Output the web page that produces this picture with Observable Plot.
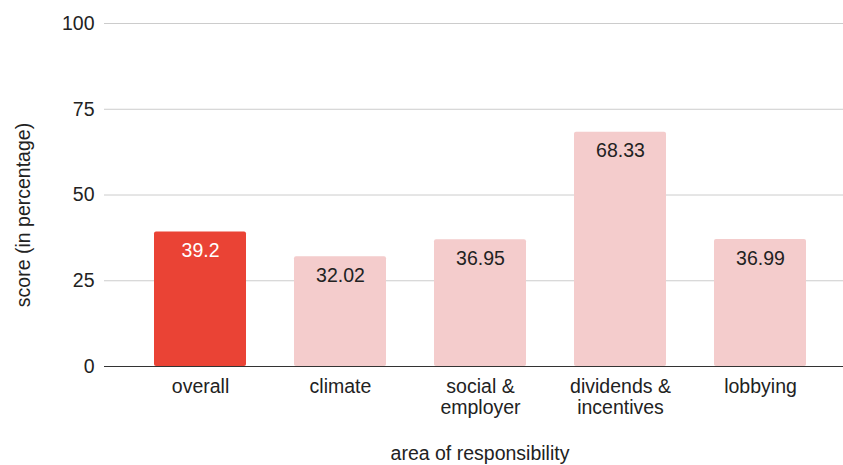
<!DOCTYPE html>
<html>
<head>
<meta charset="utf-8">
<script src="https://cdn.jsdelivr.net/npm/d3@7"></script>
<script src="https://cdn.jsdelivr.net/npm/@observablehq/plot@0.6"></script>
<style>
  html, body { margin: 0; padding: 0; background: #fff; }
  svg { display: block; }
</style>
</head>
<body>
<div id="chart"></div>
<script>
const categories = ["overall", "climate", "social &\nemployer", "dividends &\nincentives", "lobbying"];
const scores = [39.2, 32.02, 36.95, 68.33, 36.99];
const scoreLabels = ["39.2", "32.02", "36.95", "68.33", "36.99"];
const highlight = [true, false, false, false, false];
const yTicks = [0, 25, 50, 75, 100];

const data = categories.map((c, i) => ({cat: c, score: scores[i], label: scoreLabels[i], hl: highlight[i]}));
const FS = 19.5;

const chart = Plot.plot({
  width: 843,
  height: 465,
  marginLeft: 104,
  marginRight: 0,
  marginTop: 23,
  marginBottom: 99,
  style: {fontFamily: "'Liberation Sans', Arial, sans-serif", fontSize: FS + "px", color: "#222", background: "#fff"},
  x: {domain: categories, paddingInner: 0.344, paddingOuter: 0.306, align: 0.57, label: null},
  y: {domain: [0, 100], label: null},
  marks: [
    Plot.gridY(yTicks, {stroke: "#cccccc", strokeOpacity: 1}),
    Plot.axisY(yTicks, {tickSize: 0, tickPadding: 10, fontSize: FS, fill: "#222", label: null}),
    Plot.axisX({tickSize: 0, tickPadding: 12, fontSize: FS, fill: "#222", lineHeight: 1.05, label: null}),
    Plot.barY(data, {x: "cat", y: "score", fill: d => d.hl ? "#ea4335" : "#f4cccc", rx: 2}),
    Plot.ruleY([0], {stroke: "#333"}),
    Plot.text(data, {x: "cat", y: "score", text: "label", dy: 19, fontSize: FS, fill: d => d.hl ? "#ffffff" : "#222222"}),
    Plot.text(["area of responsibility"], {frameAnchor: "bottom", dy: 93, dx: 6, fontSize: FS, fill: "#222"}),
    Plot.text(["score (in percentage)"], {frameAnchor: "left", textAnchor: "middle", dx: -81, dy: 20, rotate: -90, fontSize: FS, fill: "#222"})
  ]
});
document.getElementById("chart").appendChild(chart);
</script>
</body>
</html>
